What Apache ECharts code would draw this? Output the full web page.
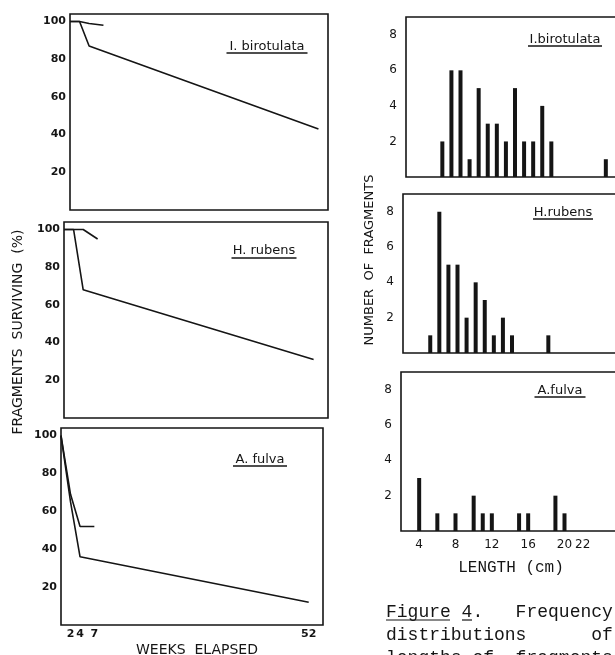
<!DOCTYPE html>
<html>
<head>
<meta charset="utf-8">
<script src="https://cdn.jsdelivr.net/npm/echarts@6.0.0/dist/echarts.min.js"></script>
<style>
  html, body { margin: 0; padding: 0; background: #fff; }
  #chart { width: 615px; height: 655px; }
</style>
</head>
<body>
<div id="chart"></div>
<script>
// survival curves (weeks elapsed -> % fragments surviving)
const weeksShort = [0, 2, 4, 7];
const weeksLong = [0, 2, 4, 52];
const birotulataShort = [100, 100, 99, 98];
const birotulataLong = [100, 100, 87, 43];
const rubensShort = [100, 100, 100, 95];
const rubensLong = [100, 100, 68, 31];
const fulvaShort = [100, 69, 52, 52];
const fulvaLong = [100, 65, 36, 12];
const weekTicks = [2, 4, 7, 52];
const percentTicks = [20, 40, 60, 80, 100];

// length frequency distributions (cm -> number of fragments)
const lengthsBirotulata = [6, 7, 8, 9, 10, 11, 12, 13, 14, 15, 16, 17, 18, 24];
const countsBirotulata = [2, 6, 6, 1, 5, 3, 3, 2, 5, 2, 2, 4, 2, 1];
const lengthsRubens = [5, 6, 7, 8, 9, 10, 11, 12, 13, 14, 18];
const countsRubens = [1, 8, 5, 5, 2, 4, 3, 1, 2, 1, 1];
const lengthsFulva = [4, 6, 8, 10, 11, 12, 15, 16, 19, 20];
const countsFulva = [3, 1, 1, 2, 1, 1, 1, 1, 2, 1];
const lengthTicks = [4, 8, 12, 16, 20, 22];
const countTicks = [2, 4, 6, 8];

const species = ['I. birotulata', 'H. rubens', 'A. fulva'];
const speciesRight = ['I.birotulata', 'H.rubens', 'A.fulva'];

const chart = echarts.init(document.getElementById('chart'));

const ink = '#151515';
const sans = 'DejaVu Sans';
const mono = 'Liberation Mono';

function pairs(xs, ys) {
    return xs.map(function (x, i) { return [x, ys[i]]; });
}

const gridBase = { show: true, borderColor: ink, borderWidth: 1.6, backgroundColor: 'transparent', outerBoundsMode: 'none' };
const grids = [
    { left: 70, top: 14, width: 258, height: 196 },
    { left: 64, top: 222, width: 264, height: 196 },
    { left: 61, top: 428, width: 262, height: 197 },
    { left: 406, top: 17, width: 218, height: 160 },
    { left: 403, top: 194, width: 218, height: 159 },
    { left: 401, top: 372, width: 218, height: 159 }
].map(function (g) { return Object.assign({}, gridBase, g); });

const xAxes = [];
const yAxes = [];
for (let i = 0; i < 6; i++) {
    const left = i < 3;
    const bottom = i === 2 || i === 5;
    xAxes.push({
        type: 'value', gridIndex: i,
        min: left ? 0 : 2,
        max: left ? (i === 0 ? 54 : 55) : 26,
        axisLine: { show: false }, axisTick: { show: false }, splitLine: { show: false },
        axisLabel: {
            show: bottom,
            customValues: left ? weekTicks : lengthTicks,
            color: ink,
            fontFamily: sans,
            fontSize: left ? 11 : 12,
            fontWeight: left ? 'bold' : 'normal',
            margin: left ? 4 : 8
        }
    });
    yAxes.push({
        type: 'value', gridIndex: i,
        min: 0, max: left ? 104 : 9,
        axisLine: { show: false }, axisTick: { show: false }, splitLine: { show: false },
        axisLabel: {
            customValues: left ? percentTicks : countTicks,
            color: ink,
            fontFamily: sans,
            fontSize: left ? 11 : 12,
            fontWeight: left ? 'bold' : 'normal',
            margin: left ? 4 : 9
        }
    });
}

function lineSeries(idx, xs, ys) {
    return {
        type: 'line', xAxisIndex: idx, yAxisIndex: idx,
        data: pairs(xs, ys), showSymbol: false, silent: true,
        lineStyle: { color: ink, width: 1.6 }
    };
}
function barSeries(idx, xs, ys) {
    return {
        type: 'bar', xAxisIndex: idx, yAxisIndex: idx,
        data: pairs(xs, ys), barWidth: 4, silent: true,
        itemStyle: { color: ink }
    };
}

const series = [
    lineSeries(0, weeksShort, birotulataShort),
    lineSeries(0, weeksLong, birotulataLong),
    lineSeries(1, weeksShort, rubensShort),
    lineSeries(1, weeksLong, rubensLong),
    lineSeries(2, weeksShort, fulvaShort),
    lineSeries(2, weeksLong, fulvaLong),
    barSeries(3, lengthsBirotulata, countsBirotulata),
    barSeries(4, lengthsRubens, countsRubens),
    barSeries(5, lengthsFulva, countsFulva)
];

// underlined species names inside each panel
const nameSpots = [
    { text: species[0], cx: 267, y: 47, w: 81, uy: 53 },
    { text: species[1], cx: 264, y: 251, w: 65, uy: 258 },
    { text: species[2], cx: 260, y: 460, w: 54, uy: 466 },
    { text: speciesRight[0], cx: 565, y: 40, w: 74, uy: 46 },
    { text: speciesRight[1], cx: 563, y: 213, w: 60, uy: 219 },
    { text: speciesRight[2], cx: 560, y: 391, w: 51, uy: 397 }
];
const graphic = [];
nameSpots.forEach(function (s) {
    graphic.push({
        type: 'text', x: s.cx, y: s.y,
        style: { text: s.text, fill: ink, font: '13px ' + sans, align: 'center', verticalAlign: 'middle' }
    });
    graphic.push({
        type: 'line', shape: { x1: s.cx - s.w / 2, y1: s.uy, x2: s.cx + s.w / 2, y2: s.uy },
        style: { stroke: ink, lineWidth: 1.4 }
    });
});

// axis titles
graphic.push({
    type: 'text', x: 18, y: 332, rotation: Math.PI / 2,
    style: { text: 'FRAGMENTS  SURVIVING  (%)', fill: ink, font: '14px ' + sans, align: 'center', verticalAlign: 'middle' }
});
graphic.push({
    type: 'text', x: 197, y: 650,
    style: { text: 'WEEKS  ELAPSED', fill: ink, font: '14px ' + sans, align: 'center', verticalAlign: 'middle' }
});
graphic.push({
    type: 'text', x: 370, y: 260, rotation: Math.PI / 2,
    style: { text: 'NUMBER  OF  FRAGMENTS', fill: ink, font: '13px ' + sans, align: 'center', verticalAlign: 'middle' }
});
graphic.push({
    type: 'text', x: 511, y: 568,
    style: { text: 'LENGTH (cm)', fill: ink, font: '16px ' + mono, align: 'center', verticalAlign: 'middle' }
});

// typed caption below the histograms
const captionLines = ['Figure 4.   Frequency', 'distributions      of', 'lengths of  fragments'];
captionLines.forEach(function (t, i) {
    graphic.push({
        type: 'text', x: 386, y: 612 + i * 23,
        style: { text: t, fill: ink, font: '18px ' + mono, align: 'left', verticalAlign: 'middle' }
    });
});
graphic.push({ type: 'line', shape: { x1: 386, y1: 620, x2: 450, y2: 620 }, style: { stroke: ink, lineWidth: 1.2 } });
graphic.push({ type: 'line', shape: { x1: 462, y1: 620, x2: 472, y2: 620 }, style: { stroke: ink, lineWidth: 1.2 } });

const option = {
    backgroundColor: '#fff',
    animation: false,
    grid: grids,
    xAxis: xAxes,
    yAxis: yAxes,
    series: series,
    graphic: graphic
};

chart.setOption(option);
</script>
</body>
</html>
